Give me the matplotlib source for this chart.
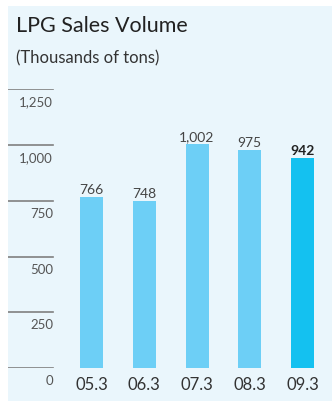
import matplotlib
matplotlib.use("Agg")
import matplotlib.pyplot as plt
import matplotlib.transforms as mtransforms
from matplotlib.patches import Rectangle

categories = ["05.3", "06.3", "07.3", "08.3", "09.3"]
values = [766, 748, 1002, 975, 942]
value_labels = ["766", "748", "1,002", "975", "942"]
yticks = [0, 250, 500, 750, 1000, 1250]
ytick_labels = ["0", "250", "500", "750", "1,000", "1,250"]

W, H = 332, 402
fig = plt.figure(figsize=(W / 100, H / 100), dpi=100)
fig.patch.set_facecolor("white")
plt.rcParams['font.family'] = ['Lato', 'DejaVu Sans']

bg = "#EAF6FC"
fig.patches.append(Rectangle((8 / W, 0), 1 - 8 / W, 1 - 7 / H, transform=fig.transFigure,
                             facecolor=bg, edgecolor="none", zorder=-5))

fig.text(16 / W, 1 - 26 / H, "LPG Sales Volume", fontsize=15.5, color="#222222",
         ha="left", va="center")
fig.text(16 / W, 1 - 58 / H, "(Thousands of tons)", fontsize=12, color="#333333",
         ha="left", va="center")

left, right = 8, 329
bottom_px = 369.3
top_px = 90
ax = fig.add_axes([left / W, 1 - bottom_px / H, (right - left) / W, (bottom_px - top_px) / H])
ax.set_facecolor("none")
ax.set_zorder(2)
for s in ax.spines.values():
    s.set_visible(False)
ax.set_xticks([])
ax.set_yticks([])

spacing = 52.75
c0 = (91.5 - left) / spacing
ax.set_xlim(-c0, -c0 + (right - left) / spacing)
ax.set_ylim(0, 1250)

x = list(range(len(categories)))
colors = ["#6DCFF6"] * 4 + ["#14C1F0"]
ax.bar(x, values, width=23 / spacing, color=colors, zorder=2)

gx = (53 - left) / (right - left)
for t, lab in zip(yticks, ytick_labels):
    ax.axhline(t, xmin=0, xmax=gx, color="#808080", lw=1.2, zorder=1)
    tr = mtransforms.offset_copy(ax.get_yaxis_transform(), fig=fig, x=0, y=-12 * 0.72, units="points")
    ax.text(gx, t, lab, transform=tr, ha="right", va="center", fontsize=9.5, color="#555555")

for i, (v, lab) in enumerate(zip(values, value_labels)):
    last = i == len(values) - 1
    ax.annotate(lab, (i, v), xytext=(0, 1.5), textcoords="offset points", ha="center",
                va="bottom", fontsize=10, color="#222222" if last else "#444444",
                fontweight="bold" if last else "normal")

for i, c in enumerate(categories):
    ax.annotate(c, (i, 0), xytext=(0, -16 * 0.72), textcoords="offset points", ha="center",
                va="center", fontsize=12, color="#333333", annotation_clip=False)

fig.savefig("out.png", dpi=100, facecolor="white")
